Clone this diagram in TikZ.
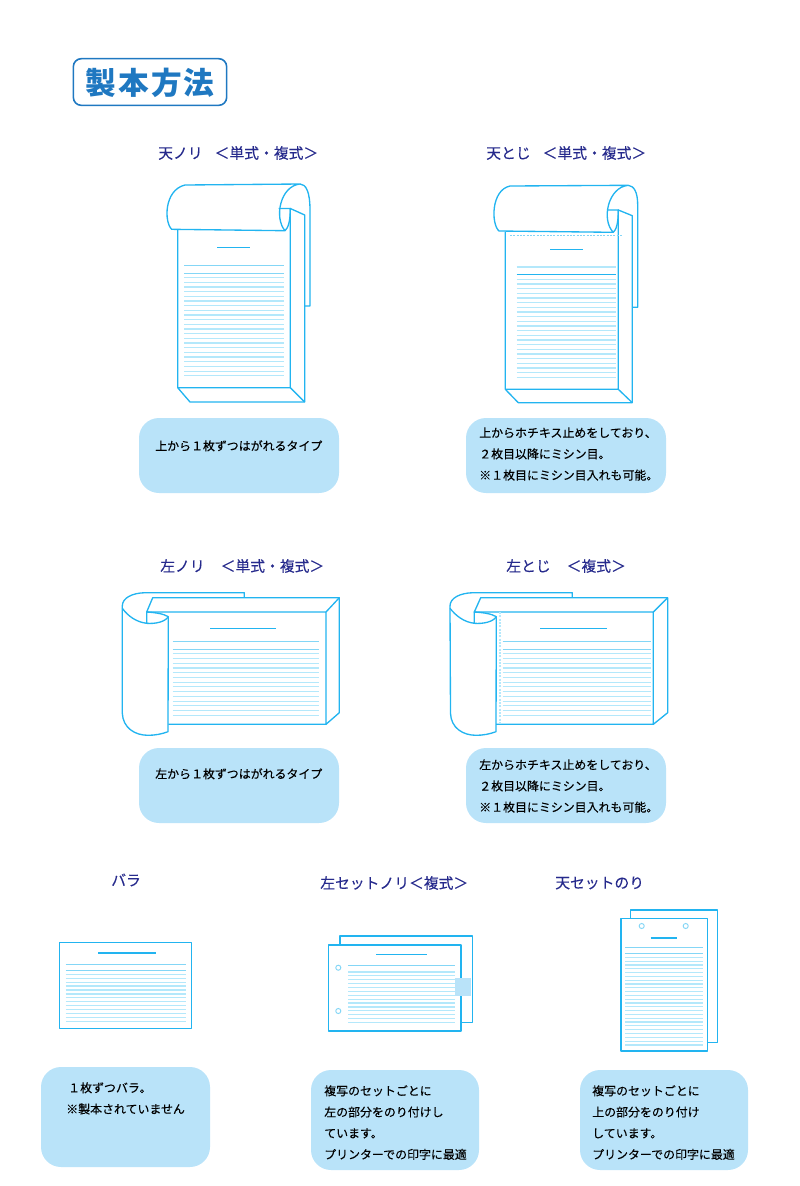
\documentclass[tikz,border=0pt]{standalone}
\usepackage{fontspec}
\newfontfamily\cjk[FakeBold=0.15]{Noto Sans CJK JP}
\newfontfamily\cjktitle[LetterSpace=7]{Noto Sans CJK JP}
\definecolor{linecyan}{HTML}{22B4F0}
\definecolor{rulecyan}{HTML}{B4E8FB}
\definecolor{rulemid}{HTML}{84D6F6}
\definecolor{memoblue}{HTML}{B9E3F9}
\definecolor{headnavy}{HTML}{262A8C}
\definecolor{titleblue}{HTML}{1F78C1}
\tikzset{
  edgeline/.style={draw=linecyan,line width=1pt,line join=round},
  rulelight/.style={draw=rulecyan,line width=0.9pt},
  ruledark/.style={draw=rulemid,line width=0.9pt},
  headline/.style={draw=linecyan,line width=1pt},
  heading/.style={anchor=west,inner sep=0pt,text=headnavy,font=\cjk\fontsize{11.1}{13}\selectfont},
  memobox/.style={fill=memoblue,rounded corners=15pt,inner sep=0pt,minimum width=#1*0.75pt},
  memotext/.style={anchor=north west,inner sep=0pt,align=left,font=\cjk\fontsize{8.95}{15.9}\selectfont},
  punch/.style={circle,draw=rulemid,line width=0.7pt,inner sep=0pt,minimum size=3.8pt}
}
\begin{document}
\begin{tikzpicture}[x=0.75pt,y=-0.75pt]
\useasboundingbox (0,0) rectangle (800,1186);
\node[draw=titleblue,line width=1.2pt,rounded corners=6pt,minimum width=115pt,minimum height=35pt,inner sep=0pt] (titlebox) at (150,82) {};
\node[inner sep=0pt,text=titleblue,font=\cjktitle\bfseries\fontsize{23}{24}\selectfont] (title) at (150,83) {製本方法};
\node[heading] (h1) at (158,153) {天ノリ\hspace{9pt}＜単式・複式＞};
\node[heading] (h2) at (486,153) {天とじ\hspace{9pt}＜単式・複式＞};
\node[heading] (h3) at (160,566) {左ノリ\hspace{12pt}＜単式・複式＞};
\node[heading] (h4) at (506,566) {左とじ\hspace{12pt}＜複式＞};
\node[heading] (h5) at (111,880) {バラ};
\node[heading] (h6) at (320,883) {左セットノリ＜複式＞};
\node[heading] (h7) at (555,883) {天セットのり};
\draw[edgeline] (177.7,230) -- (177.7,387.7) -- (290.3,387.7) -- (290.3,208.5) -- (304.7,215) -- (304.7,402) -- (190,402) -- (177.7,387.7);
\draw[edgeline] (290.3,387.7) -- (304.7,402);
\draw[edgeline] (171.7,229.3) .. controls (164,222) and (164,190) .. (185,185) -- (300,184) .. controls (280,186) and (274,218) .. (285,230.7) -- cycle;
\draw[edgeline] (285,230.7) .. controls (288,228) and (290.3,222) .. (290.3,208.5) -- (278.7,208.5);
\draw[edgeline] (300,184) .. controls (306,184) and (310,192) .. (310,210) -- (310,306) -- (304.7,306);
\draw[headline] (217.3,247.7) -- (250,247.7);
\draw[ruledark] (184.3,265.3) -- (284,265.3);
\draw[ruledark] (184.3,273.3) -- (284,273.3);
\foreach \k in {0,...,21} \draw[rulelight] (184.3,{277.7+\k*4.67}) -- (284,{277.7+\k*4.67});
\draw[edgeline] (505.3,231.7) -- (505.3,389.3) -- (618.3,389.3) -- (618.3,210) -- (632.3,215.7) -- (632.3,402.7) -- (518.3,402.7) -- (505.3,389.3);
\draw[edgeline] (618.3,389.3) -- (632.3,402.7);
\draw[edgeline] (499,231) .. controls (491,224) and (491,190) .. (510,186) -- (628.3,185.3) .. controls (608,187) and (601,220) .. (613.3,232.3) -- cycle;
\draw[edgeline] (613.3,232.3) .. controls (616,230) and (618.3,224) .. (618.3,210) -- (607,210);
\draw[edgeline] (628.3,185.3) .. controls (634,186) and (637.7,192) .. (637.7,205) -- (637.7,307.3) -- (632.7,307.3);
\draw[rulemid,line width=0.5pt,dash pattern=on 1.5pt off 1pt] (510,235.3) -- (622.7,235.3);
\draw[headline] (550,249.3) -- (583.3,249.3);
\draw[rulecyan,line width=1.2pt] (516.7,266.7) -- (616,266.7);
\draw[edgeline] (516.7,274.3) -- (616,274.3);
\foreach \k in {0,...,21} \draw[rulelight] (516.7,{279.3+\k*4.67}) -- (616,{279.3+\k*4.67});
\draw[edgeline] (168.3,724.3) -- (326,724.3) -- (326,612) -- (146.7,612) -- (152.7,597.7) -- (339.3,597.7) -- (339.3,712.7) -- (326,724.3);
\draw[edgeline] (326,612) -- (339.3,597.7);
\draw[edgeline] (244.3,597.7) -- (244.3,592.7) -- (145,592.7) .. controls (132,593) and (122.3,598) .. (122.3,606) -- (122.3,713.3) .. controls (123,728) and (135,735.3) .. (148,735.3) .. controls (155,735.3) and (162,734) .. (168,731.7) -- (168.3,616.7);
\draw[edgeline] (122.3,608.3) .. controls (128,616) and (136,622) .. (146.7,623.3) .. controls (155,624) and (165,622) .. (168.3,616.7) .. controls (164,614) and (156,612.5) .. (146.7,612) -- (146.7,623.3);
\draw[headline] (210,628.3) -- (276,628.3);
\draw[ruledark] (172.7,641.3) -- (319.3,641.3);
\draw[ruledark] (172.7,649.3) -- (319.3,649.3);
\foreach \k in {0,...,13} \draw[rulelight] (172.7,{653.7+\k*4.74}) -- (319.3,{653.7+\k*4.74});
\draw[edgeline] (496,724.3) -- (653.3,724.3) -- (653.3,612) -- (474.3,612) -- (480.7,597.7) -- (667.7,597.7) -- (667.7,712.7) -- (653.3,724.3);
\draw[edgeline] (653.3,612) -- (667.7,597.7);
\draw[edgeline] (572.3,597.7) -- (572.3,592.7) -- (473,592.7) .. controls (460,593) and (450,598) .. (450,606) -- (450.5,713.3) .. controls (451,728) and (463,735.3) .. (476,735.3) .. controls (483,735.3) and (490,734) .. (496,731.7) -- (496.3,616.7);
\draw[edgeline] (450,608.3) .. controls (456,616) and (464,622) .. (474.3,623.3) .. controls (483,624) and (493,622) .. (496.3,616.7) .. controls (492,614) and (484,612.5) .. (474.3,612) -- (474.3,623.3);
\draw[rulecyan,line width=1.4pt,dash pattern=on 1.5pt off 1pt] (500,612) -- (500,724);
\draw[headline] (540,628.3) -- (606.7,628.3);
\draw[ruledark] (502.7,641.3) -- (650.7,641.3);
\draw[ruledark] (502.7,649.3) -- (650.7,649.3);
\foreach \k in {0,...,13} \draw[rulelight] (502.7,{653.7+\k*4.74}) -- (650.7,{653.7+\k*4.74});
\draw[edgeline] (59.3,942.7) rectangle (191.7,1028.3);
\draw[headline] (98.3,953) -- (156,953);
\draw[ruledark] (65.7,964.3) -- (185.7,964.3);
\draw[ruledark] (65.7,970.3) -- (185.7,970.3);
\foreach \k in {0,...,12} \draw[rulelight] (65.7,{974.3+\k*3.92}) -- (185.7,{974.3+\k*3.92});
\draw[edgeline] (340,945) -- (340,936) -- (472.7,936) -- (472.7,1022.3) -- (461,1022.3);
\draw[edgeline,fill=white] (328.3,945) rectangle (461,1031);
\draw[headline] (376,954.3) -- (427.3,954.3);
\draw[ruledark] (348.3,965.3) -- (455,965.3);
\draw[rulecyan,line width=1.2pt] (348.3,972) -- (455,972);
\foreach \k in {0,...,12} \draw[rulelight] (348.3,{975.7+\k*3.9}) -- (455,{975.7+\k*3.9});
\fill[memoblue] (455,978.3) rectangle (471,995.7);
\node[punch] (hole1) at (338.3,967.7) {};
\node[punch] (hole2) at (338.3,1011) {};
\draw[edgeline] (630.7,918.7) -- (630.7,910) -- (717.3,910) -- (717.3,1042.3) -- (707.3,1042.3);
\draw[edgeline,fill=white] (621,918.7) rectangle (707.3,1051);
\node[punch] (hole3) at (641.7,926) {};
\node[punch] (hole4) at (685.7,926) {};
\draw[headline] (650.7,938) -- (676.7,938);
\draw[ruledark] (625,947.3) -- (703.3,947.3);
\draw[ruledark] (625,953.3) -- (703.3,953.3);
\foreach \k in {0,...,23} \draw[rulelight] (625,{957.3+\k*3.81}) -- (703.3,{957.3+\k*3.81});
\node[memobox=200,minimum height=56.25pt] (m1) at (239,455.5) {};
\node[memobox=200,minimum height=56.25pt] (m2) at (566,455.5) {};
\node[memobox=200,minimum height=56.25pt] (m3) at (239,785.5) {};
\node[memobox=200,minimum height=56.25pt] (m4) at (566,785.5) {};
\node[memobox=169,minimum height=75pt] (m5) at (125.5,1117) {};
\node[memobox=168,minimum height=75pt] (m6) at (395,1120) {};
\node[memobox=168,minimum height=75pt] (m7) at (664,1120) {};
\node[memotext] (t1) at (155,440) {上から１枚ずつはがれるタイプ};
\node[memotext] (t2) at (479,427) {上からホチキス止めをしており、\\２枚目以降にミシン目。\\※１枚目にミシン目入れも可能。};
\node[memotext] (t3) at (155,768) {左から１枚ずつはがれるタイプ};
\node[memotext] (t4) at (479,759) {左からホチキス止めをしており、\\２枚目以降にミシン目。\\※１枚目にミシン目入れも可能。};
\node[memotext] (t5) at (66,1082) {\hspace{1.5pt}１枚ずつバラ。\\※製本されていません};
\node[memotext] (t6) at (324,1085) {複写のセットごとに\\左の部分をのり付けし\\ています。\\プリンターでの印字に最適};
\node[memotext] (t7) at (592,1085) {複写のセットごとに\\上の部分をのり付け\\しています。\\プリンターでの印字に最適};
\end{tikzpicture}
\end{document}
